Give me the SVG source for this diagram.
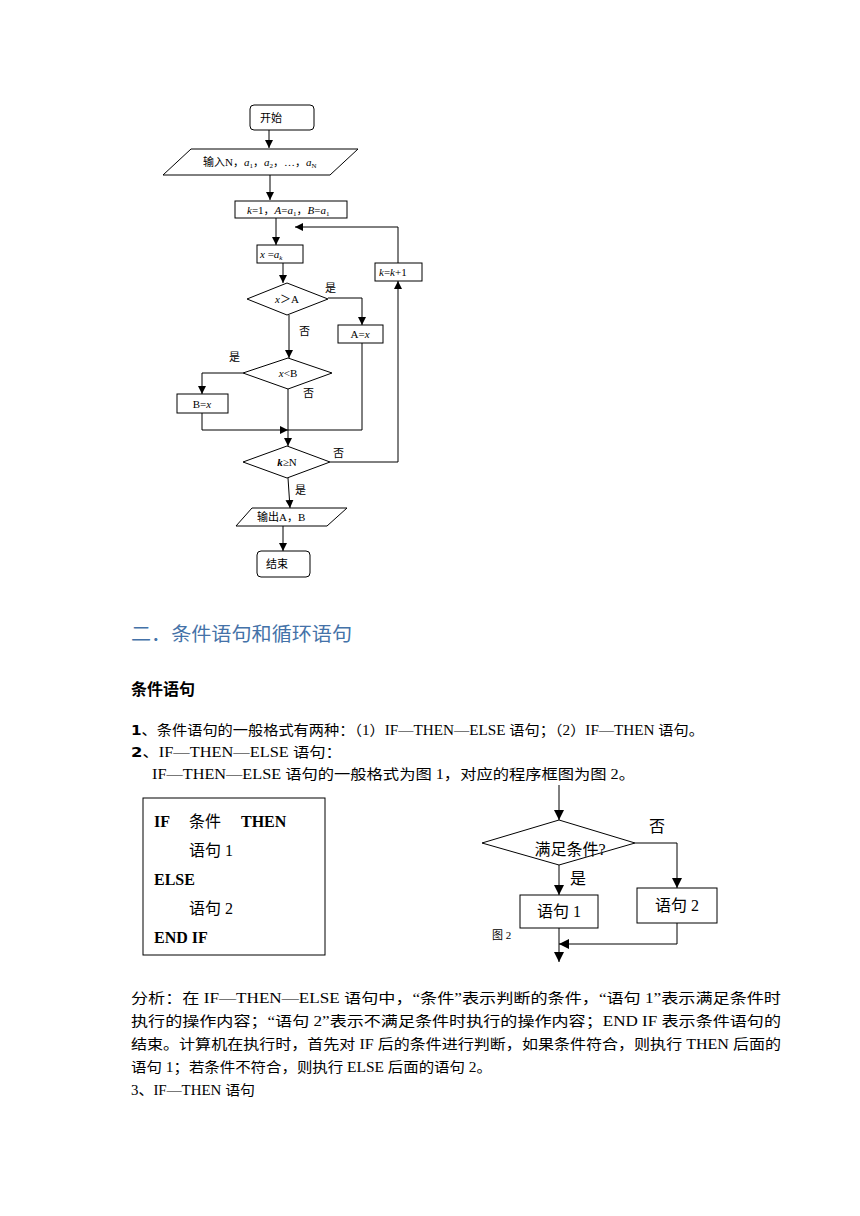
<svg xmlns="http://www.w3.org/2000/svg" width="860" height="1216" viewBox="0 0 860 1216">
<defs>
<marker id="ah" viewBox="0 0 10 10" refX="10" refY="5" markerWidth="8" markerHeight="8" markerUnits="userSpaceOnUse" orient="auto"><path d="M0,0 L10,5 L0,10 z" fill="#000"/></marker>
<marker id="ah2" viewBox="0 0 10 10" refX="10" refY="5" markerWidth="10" markerHeight="10" markerUnits="userSpaceOnUse" orient="auto"><path d="M0,0 L10,5 L0,10 z" fill="#000"/></marker>
<style>
.s{fill:#fff;stroke:#000;stroke-width:1}
.c{fill:none;stroke:#000;stroke-width:1}
.f{font-family:"Liberation Serif","Noto Sans CJK SC",serif;font-size:11px;fill:#000}
.fi{font-style:italic}
.t{font-family:"Liberation Serif","Noto Sans CJK SC",serif;font-size:14px;fill:#000}
.b{font-family:"Liberation Serif","Noto Sans CJK SC",serif;font-size:16px;fill:#000}
.bb{font-weight:bold}
.g{font-family:"Liberation Serif","Noto Sans CJK SC",serif;font-size:16px;fill:#000}
</style>
</defs>
<rect width="860" height="1216" fill="#fff"/>

<g id="connectors">
<line class="c" x1="269" y1="130" x2="269" y2="148" marker-end="url(#ah)"/>
<line class="c" x1="270" y1="175" x2="270" y2="200" marker-end="url(#ah)"/>
<line class="c" x1="276" y1="218" x2="276" y2="245" marker-end="url(#ah)"/>
<line class="c" x1="283" y1="263" x2="283" y2="283" marker-end="url(#ah)"/>
<polyline class="c" points="398,263 398,227 295,227" marker-end="url(#ah)"/>
<polyline class="c" points="328,298 362,298 362,325" marker-end="url(#ah)"/>
<line class="c" x1="289" y1="315" x2="289" y2="358" marker-end="url(#ah)"/>
<polyline class="c" points="243,373 202,373 202,394" marker-end="url(#ah)"/>
<line class="c" x1="288" y1="389" x2="288" y2="446" marker-end="url(#ah)"/>
<polyline class="c" points="202,413 202,430 288,430" marker-end="url(#ah)"/>
<polyline class="c" points="362,343 362,430 288,430"/>
<polyline class="c" points="330,462 398,462 398,281" marker-end="url(#ah)"/>
<line class="c" x1="288" y1="478" x2="290" y2="508" marker-end="url(#ah)"/>
<line class="c" x1="283" y1="526" x2="283" y2="551" marker-end="url(#ah)"/>

<line class="c" x1="559" y1="785" x2="559" y2="820" marker-end="url(#ah2)"/>
<polyline class="c" points="635,843 677,843 677,888" marker-end="url(#ah2)"/>
<line class="c" x1="559" y1="865" x2="559" y2="895" marker-end="url(#ah2)"/>
<line class="c" x1="559" y1="928" x2="559" y2="962" marker-end="url(#ah2)"/>
<polyline class="c" points="677,923 677,944 559,944" marker-end="url(#ah2)"/>
</g>

<g id="start"><rect class="s" x="250" y="105" width="64" height="25" rx="4"/><text class="f" x="260" y="122">开始</text></g>
<g id="input"><polygon class="s" points="191,149 358,149 330,175 163,175"/><text class="f" x="203" y="166">输入N，<tspan class="fi">a</tspan><tspan font-size="7" dy="2">1</tspan><tspan dy="-2">，</tspan><tspan class="fi">a</tspan><tspan font-size="7" dy="2">2</tspan><tspan dy="-2">，…，</tspan><tspan class="fi">a</tspan><tspan font-size="7" dy="2">N</tspan></text></g>
<g id="init"><rect class="s" x="235" y="201" width="112" height="17"/><text class="f" x="247" y="214"><tspan class="fi">k</tspan>=1，<tspan class="fi">A</tspan>=<tspan class="fi">a</tspan><tspan font-size="7" dy="2">1</tspan><tspan dy="-2">，</tspan><tspan class="fi">B</tspan>=<tspan class="fi">a</tspan><tspan font-size="7" dy="2">1</tspan></text></g>
<g id="xak"><rect class="s" x="257" y="245" width="46" height="18"/><text class="f" x="260" y="258"><tspan class="fi">x</tspan> =<tspan class="fi">a</tspan><tspan font-size="7" dy="2" class="fi">k</tspan></text></g>
<g id="kinc"><rect class="s" x="375" y="263" width="47" height="18"/><text class="f" x="379" y="276"><tspan class="fi">k</tspan>=<tspan class="fi">k</tspan>+1</text></g>
<g id="d1"><polygon class="s" points="287,283 328,299 287,315 247,299"/><text class="f" x="287" y="303" text-anchor="middle"><tspan class="fi">x</tspan>＞A</text></g>
<g id="ax"><rect class="s" x="338" y="325" width="45" height="18"/><text class="f" x="360" y="338" text-anchor="middle">A=<tspan class="fi">x</tspan></text></g>
<g id="d2"><polygon class="s" points="288,358 332,373 288,389 243,373"/><text class="f" x="288" y="377" text-anchor="middle"><tspan class="fi">x</tspan>&lt;B</text></g>
<g id="bx"><rect class="s" x="177" y="394" width="51" height="19"/><text class="f" x="202" y="408" text-anchor="middle">B=<tspan class="fi">x</tspan></text></g>
<g id="d3"><polygon class="s" points="287,446 330,462 287,478 243,462"/><text class="f" x="287" y="466" text-anchor="middle"><tspan class="fi" font-weight="bold">k</tspan>≥N</text></g>
<g id="output"><polygon class="s" points="252,508 347,508 327,526 236,526"/><text class="f" x="257" y="521">输出A，B</text></g>
<g id="end"><rect class="s" x="257" y="551" width="53" height="26" rx="4"/><text class="f" x="266" y="568">结束</text></g>
<g id="labels" class="f">
<text x="325" y="292">是</text>
<text x="299" y="335">否</text>
<text x="229" y="361">是</text>
<text x="303" y="397">否</text>
<text x="333" y="457">否</text>
<text x="295" y="494">是</text>
</g>

<text x="131" y="641" font-family="'Noto Sans CJK SC',sans-serif" font-size="19" fill="#4472A8" textLength="221" lengthAdjust="spacingAndGlyphs">二．条件语句和循环语句</text>
<text x="131" y="695" font-family="'Noto Sans CJK SC',sans-serif" font-size="16" font-weight="bold" fill="#000">条件语句</text>

<text class="t" x="131" y="735" textLength="573" lengthAdjust="spacingAndGlyphs"><tspan font-family="'DejaVu Sans',sans-serif" font-weight="bold">1</tspan>、条件语句的一般格式有两种：（1）IF—THEN—ELSE 语句；（2）IF—THEN 语句。</text>
<text class="t" x="131" y="757" textLength="211" lengthAdjust="spacingAndGlyphs"><tspan font-family="'DejaVu Sans',sans-serif" font-weight="bold">2</tspan>、IF—THEN—ELSE 语句：</text>
<text class="t" x="152" y="779" textLength="483" lengthAdjust="spacingAndGlyphs">IF—THEN—ELSE 语句的一般格式为图 1，对应的程序框图为图 2。</text>

<g id="fig1">
<rect class="s" x="143" y="798" width="182" height="157"/>
<text class="b" x="154" y="827"><tspan class="bb">IF</tspan><tspan x="189">条件</tspan><tspan x="241" class="bb">THEN</tspan></text>
<text class="b" x="189" y="856">语句 1</text>
<text class="b bb" x="154" y="885">ELSE</text>
<text class="b" x="189" y="914">语句 2</text>
<text class="b bb" x="154" y="943">END IF</text>
</g>

<g id="fig2-cond"><polygon class="s" points="559,820 635,843 559,865 482,843"/><text class="g" x="570" y="855" text-anchor="middle">满足条件?</text></g>
<g id="fig2-s1"><rect class="s" x="520" y="895" width="78" height="33"/><text class="g" x="559" y="917" text-anchor="middle">语句 1</text></g>
<g id="fig2-s2"><rect class="s" x="637" y="888" width="80" height="35"/><text class="g" x="677" y="911" text-anchor="middle">语句 2</text></g>
<text class="g" x="649" y="832">否</text>
<text class="g" x="570" y="884">是</text>
<text class="f" x="492" y="939">图 2</text>

<g class="t">
<text x="131" y="1003" textLength="650" lengthAdjust="spacingAndGlyphs">分析：在 IF—THEN—ELSE 语句中，“条件”表示判断的条件，“语句 1”表示满足条件时</text>
<text x="131" y="1026" textLength="650" lengthAdjust="spacingAndGlyphs">执行的操作内容；“语句 2”表示不满足条件时执行的操作内容；END  IF 表示条件语句的</text>
<text x="131" y="1049" textLength="650" lengthAdjust="spacingAndGlyphs">结束。计算机在执行时，首先对 IF 后的条件进行判断，如果条件符合，则执行 THEN 后面的</text>
<text x="131" y="1072" textLength="361" lengthAdjust="spacingAndGlyphs">语句 1；若条件不符合，则执行 ELSE 后面的语句 2。</text>
<text x="131" y="1095" textLength="124" lengthAdjust="spacingAndGlyphs">3、IF—THEN 语句</text>
</g>
</svg>
